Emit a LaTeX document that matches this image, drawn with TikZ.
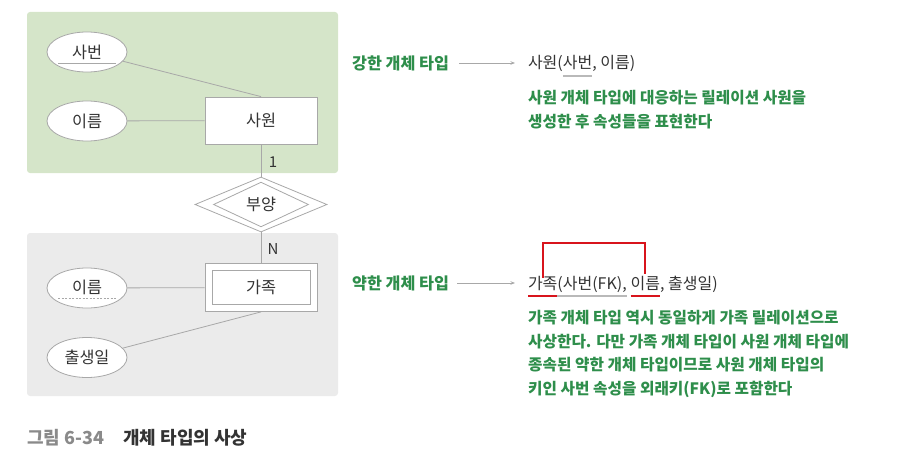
\documentclass[tikz,border=0pt]{standalone}
\usepackage{fontspec}
\setmainfont{Noto Sans CJK KR}
\usetikzlibrary{shapes.geometric,arrows.meta}
\definecolor{panelgreen}{HTML}{D5E5C9}
\definecolor{panelgray}{HTML}{EBEBEB}
\definecolor{edgegray}{HTML}{A8A8A8}
\definecolor{txtgreen}{HTML}{2E8E4B}
\definecolor{ulred}{HTML}{D8141C}
\definecolor{txtdark}{HTML}{333333}
\definecolor{capgray}{HTML}{8A8A8A}
\begin{document}
\begin{tikzpicture}[x=1pt,y=-1pt,
  panel/.style={rounded corners=3pt, draw=none},
  attr/.style={ellipse, draw=edgegray, line width=0.8pt, fill=white, minimum width=80pt, minimum height=40pt, inner sep=0pt, font=\fontsize{16.3}{18}\selectfont, text=txtdark},
  entbox/.style={rectangle, draw=edgegray, line width=0.8pt, fill=white, inner sep=0pt, font=\fontsize{16.3}{18}\selectfont, text=txtdark},
  relbox/.style={diamond, draw=edgegray, line width=0.8pt, fill=white, inner sep=0pt, font=\fontsize{16.3}{18}\selectfont, text=txtdark},
  conn/.style={draw=edgegray, line width=0.8pt},
  card/.style={inner sep=0pt, font=\fontsize{15}{16}\selectfont, text=txtdark},
  greenlbl/.style={inner sep=0pt, font=\bfseries\fontsize{16.2}{18}\selectfont, text=txtgreen},
  reltxt/.style={inner sep=0pt, outer sep=0pt, font=\fontsize{16}{18}\selectfont, text=txtdark},
  greenpar/.style={inner sep=0pt, align=left, font=\bfseries\fontsize{15.7}{23.7}\selectfont, text=txtgreen},
  arrowc/.style={draw=edgegray, line width=0.7pt, -{Stealth[length=4.5pt,width=3.5pt]}},
  redline/.style={draw=ulred, line width=2pt},
  grayul/.style={draw=edgegray!80, line width=1.3pt},
]
\useasboundingbox (0,0) rectangle (916,452);
% panels
\fill[panelgreen, panel] (27,12) rectangle (338,173);
\fill[panelgray, panel] (27,233) rectangle (338,396);
% strong entity
\node[attr] (sabeon) at (87,52) {사번};
\draw[conn] ([shift={(-29,11)}]sabeon.center) -- ([shift={(29,11)}]sabeon.center);
\node[attr] (ireumA) at (87,121) {이름};
\node[entbox, minimum width=112pt, minimum height=47pt] (sawon) at (261,120.5) {사원};
\draw[conn] (sabeon) -- (sawon.north);
\draw[conn] (ireumA) -- (sawon);
% relationship
\node[relbox, minimum width=132pt, minimum height=55pt] (buyang) at (261,204.5) {};
\node[relbox, minimum width=95pt, minimum height=41pt] (buyangin) at (buyang.center) {부양};
\draw[conn] (sawon) -- (buyang);
\node[card] (one) at (273,162) {1};
% weak entity
\node[entbox, minimum width=112pt, minimum height=48pt] (gajok) at (261,287.5) {};
\node[entbox, minimum width=98pt, minimum height=34pt] (gajokin) at (gajok.center) {가족};
\draw[conn] (buyang) -- (gajok);
\node[card] (many) at (273,249) {N};
\node[attr] (ireumB) at (87,288) {\raisebox{2.5pt}{이름}};
\draw[conn, dash pattern=on 2pt off 1.5pt] ([shift={(-29,10.5)}]ireumB.center) -- ([shift={(29,10.5)}]ireumB.center);
\node[attr] (chul) at (87,357.5) {출생일};
\draw[conn] (ireumB) -- (gajok);
\draw[conn] (chul) -- (gajok.south);
% strong mapping
\node[greenlbl, anchor=west] (strongl) at (352,63) {강한 개체 타입};
\node[reltxt, anchor=base west] (s1) at (528,69) {사원(};
\node[reltxt, anchor=base west] (s2) at (s1.base east) {사번};
\node[reltxt, anchor=base west] (s3) at (s2.base east) {, 이름)};
\draw[grayul] ([yshift=-7pt]s2.base west) -- ([yshift=-7pt]s2.base east);
\draw[arrowc] ([xshift=10pt]strongl.east) -- ([xshift=-13pt]s1.west |- strongl.east);
\node[greenpar, anchor=north west] (strongd) at (528,90) {사원 개체 타입에 대응하는 릴레이션 사원을\\생성한 후 속성들을 표현한다};
% weak mapping
\node[greenlbl, anchor=west] (weakl) at (352,283) {약한 개체 타입};
\node[reltxt, anchor=base west] (w1) at (528,289) {가족};
\node[reltxt, anchor=base west] (w2) at (w1.base east) {(사번(FK),};
\node[reltxt, anchor=base west] (w3) at ([xshift=4pt]w2.base east) {이름};
\node[reltxt, anchor=base west] (w4) at (w3.base east) {, 출생일)};
\draw[arrowc] ([xshift=8pt]weakl.east) -- ([xshift=-13pt]w1.west |- weakl.east);
\draw[grayul] ([yshift=-7pt]w1.base east) -- ([yshift=-7pt]w2.base east);
\draw[redline] ([yshift=-7pt]w1.base west) -- ([yshift=-7pt]w1.base east);
\draw[redline] ([yshift=-7pt]w3.base west) -- ([yshift=-7pt]w3.base east);
\draw[redline] ([yshift=11.5pt]w1.base) -- ([yshift=46pt]w1.base) -| ([yshift=15.5pt]w3.base);
\node[greenpar, anchor=north west] (weakd) at (528,310) {가족 개체 타입 역시 동일하게 가족 릴레이션으로\\사상한다. 다만 가족 개체 타입이 사원 개체 타입에\\종속된 약한 개체 타입이므로 사원 개체 타입의\\키인 사번 속성을 외래키(FK)로 포함한다};
% caption
\node[inner sep=0pt, anchor=base west, font=\bfseries\fontsize{18}{20}\selectfont, text=capgray] (cap1) at (27,444.5) {그림 6-34};
\node[inner sep=0pt, anchor=base west, font=\bfseries\fontsize{18}{20}\selectfont, text=txtdark] (cap2) at (123,444.5) {개체 타입의 사상};
\end{tikzpicture}
\end{document}
